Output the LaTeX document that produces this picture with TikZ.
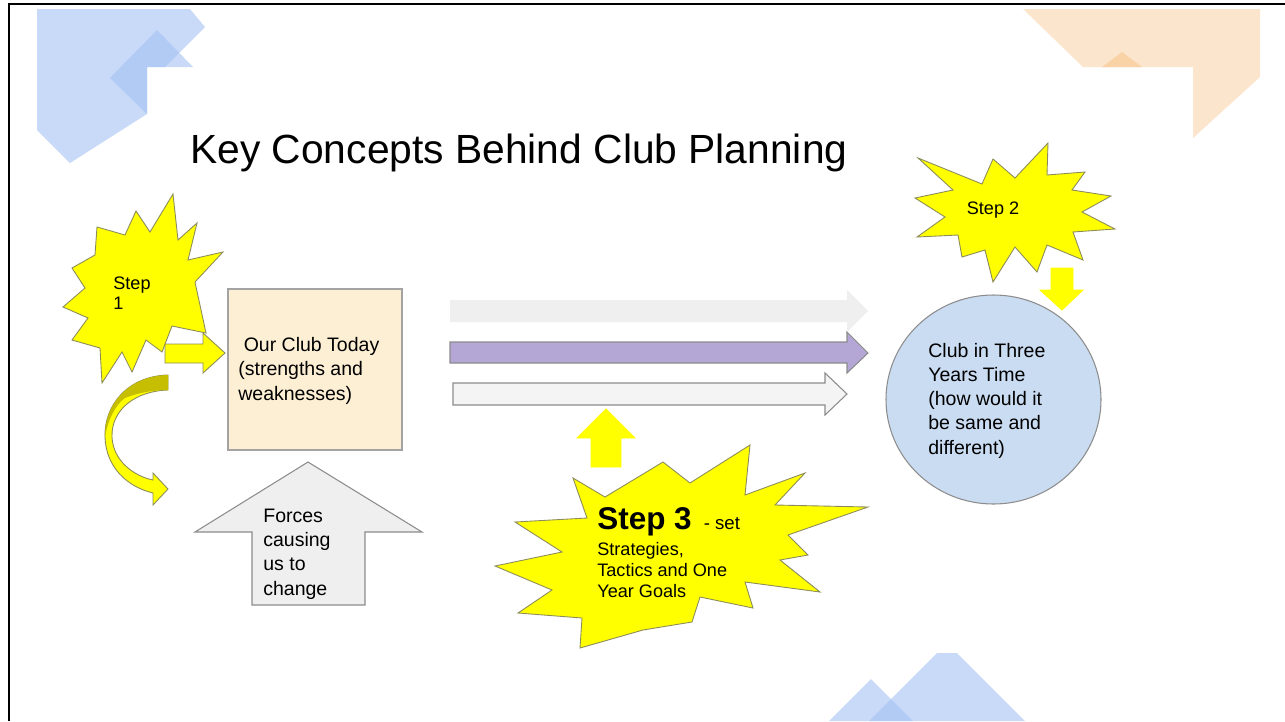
\documentclass[tikz,border=0pt]{standalone}
\usepackage{fontspec}
\setmainfont{Liberation Sans}
\usepackage{xcolor}
\usetikzlibrary{positioning}

\definecolor{burst}{HTML}{FFFF00}
\definecolor{burstline}{HTML}{8C8C5A}
\definecolor{twist}{HTML}{C6BE00}
\definecolor{todayfill}{HTML}{FCEFD4}
\definecolor{futurefill}{HTML}{CADCF1}
\definecolor{greyfill}{HTML}{EFEFEF}
\definecolor{purplefill}{HTML}{B4A7D6}
\definecolor{edge}{HTML}{8C8C8C}
\definecolor{decoblue}{HTML}{A4C2F4}
\definecolor{decoorange}{HTML}{FCE5CD}
\definecolor{decopeak}{HTML}{F9D3A6}

\tikzset{
  burststyle/.style={fill=burst, draw=burstline, line width=0.5pt},
  blockstyle/.style={draw=edge, line width=0.6pt},
  bodytext/.style={inner sep=0pt, align=left, anchor=base west,
    font=\fontsize{11.1}{13.7}\selectfont},
  smalltext/.style={inner sep=0pt, align=left, anchor=base west,
    font=\fontsize{10.3}{11.8}\selectfont}
}

\begin{document}
\begin{tikzpicture}[x=0.02cm,y=-0.02cm]
    \useasboundingbox (0,0) rectangle (1285,721);
    \fill[white] (0,0) rectangle (1285,721);

    % Background corner shapes
    \fill[decoblue, fill opacity=0.6] (37,9) -- (190,9) -- (205,27) -- (165,67) -- (147,67) -- (147,114) -- (70,163) -- (37,130) -- cycle;
    \fill[decoblue, fill opacity=0.6] (157,30) -- (193,67) -- (147,67) -- (147,114) -- (110,78) -- cycle;
    \fill[decoorange] (1023,9) -- (1260,9) -- (1260,77) -- (1193,138) -- (1193,67) -- (1083,67) -- cycle;
    \fill[decopeak] (1102,67) -- (1122,52) -- (1142,67) -- cycle;
    \fill[decoblue, fill opacity=0.6] (937,653) -- (957,653) -- (1025,721) -- (869,721) -- cycle;
    \fill[decoblue, fill opacity=0.6] (871,679) -- (913,721) -- (829,721) -- cycle;

    % Frame
    \draw[line width=1.4pt] (9,721) -- (9,4) -- (1285,4);

    % Title
    \node[inner sep=0pt, anchor=base west, font=\fontsize{23.2}{28}\selectfont] (title) at (190,163) {Key Concepts Behind Club Planning};

    % Step 1 burst
    \draw[burststyle] (173,194) -- (178,240) -- (197,223) -- (188,260) -- (223,252) -- (195,282)
        -- (206,333) -- (172,326) -- (162,352) -- (146,340) -- (132,372) -- (122,352)
        -- (102,383) -- (100,348) -- (72,340) -- (88,318) -- (63,307) -- (85,288)
        -- (72,268) -- (95,255) -- (97,227) -- (125,235) -- (136,211) -- (150,232) -- cycle;
    \node[smalltext, font=\fontsize{10.3}{11.3}\selectfont] (step1) at (113,309) {Step\\1};

    % Curved arrow
    \draw[burststyle] (168,375) .. controls (128,376) and (104,405) .. (105,437)
        .. controls (106,468) and (128,487) .. (153,493) -- (153,505) -- (168,489) -- (153,473) -- (153,480)
        .. controls (133,476) and (113,460) .. (112,437) .. controls (111,410) and (135,391) .. (168,390) -- cycle;
    \fill[twist] (168,375) .. controls (128,376) and (104,405) .. (105,437)
        .. controls (108,420) and (115,405) .. (125,398) .. controls (140,392) and (155,390) .. (168,390) -- cycle;

    % Step 1 arrow
    \draw[burststyle] (165,344) -- (203,344) -- (203,333) -- (225,353) -- (203,373) -- (203,363) -- (165,363) -- cycle;

    % Club today
    \draw[fill=todayfill, draw=edge!80, line width=0.6pt] (228,289) rectangle (402,450);
    \node[bodytext] (today) at (238,400) {\ Our Club Today\\(strengths and\\weaknesses)};

    % Forces
    \draw[blockstyle, fill=greyfill] (308,462) -- (422,532) -- (365,532) -- (365,605) -- (252,605) -- (252,532) -- (195,532) -- cycle;
    \node[bodytext] (forces) at (263,595) {Forces\\causing\\us to\\change};

    % Three arrows
    \fill[greyfill] (450,300) -- (847,300) -- (847,290) -- (868,311) -- (847,332) -- (847,322) -- (450,322) -- cycle;
    \draw[blockstyle, fill=purplefill] (450,342) -- (847,342) -- (847,332) -- (868,353) -- (847,373) -- (847,363) -- (450,363) -- cycle;
    \draw[blockstyle, fill=greyfill!70!white] (453,383) -- (825,383) -- (825,373) -- (847,394) -- (825,415) -- (825,405) -- (453,405) -- cycle;

    % Step 3 arrow
    \draw[burststyle, draw=burst] (606,409) -- (635,438) -- (621,438) -- (621,467) -- (591,467) -- (591,438) -- (577,438) -- cycle;

    % Step 3 burst
    \draw[burststyle] (573,478) -- (605,497) -- (663,462) -- (690,483) -- (750,445) -- (745,495)
        -- (805,473) -- (775,505) -- (868,507) -- (788,535) -- (808,555) -- (780,560)
        -- (820,592) -- (745,582) -- (753,608) -- (700,597) -- (692,622) -- (643,630)
        -- (580,648) -- (582,618) -- (518,613) -- (552,590) -- (495,566) -- (562,552)
        -- (515,522) -- (587,518) -- cycle;
    \node[smalltext] (step3) at (597,597) {{\fontsize{17.9}{20}\selectfont\bfseries Step 3}\hspace{4pt} {\fontsize{10.6}{12}\selectfont - set}\\[3pt]Strategies,\\Tactics and One\\Year Goals};

    % Club in three years
    \draw[fill=futurefill, draw=edge, line width=0.6pt] (993.5,399.5) ellipse [x radius=107.5, y radius=104.5];
    \node[bodytext] (future) at (928,454) {Club in Three\\Years Time\\(how would it\\be same and\\different)};

    % Step 2 burst
    \draw[burststyle] (918,158) -- (982,184) -- (993,159) -- (1015,178) -- (1048,143) -- (1047,175)
        -- (1085,172) -- (1072,190) -- (1111,196) -- (1082,212) -- (1115,229) -- (1073,232)
        -- (1083,260) -- (1047,245) -- (1037,272) -- (1015,247) -- (993,282) -- (985,250)
        -- (962,257) -- (958,235) -- (917,237) -- (945,217) -- (915,198) -- (953,190) -- cycle;
    \node[inner sep=0pt, font=\fontsize{10.3}{12}\selectfont] (step2) at (993,210) {Step 2};

    % Step 2 arrow
    \draw[burststyle, draw=burst] (1051,268) -- (1073,268) -- (1073,290) -- (1083,290) -- (1062,310) -- (1040,290) -- (1051,290) -- cycle;
\end{tikzpicture}
\end{document}
